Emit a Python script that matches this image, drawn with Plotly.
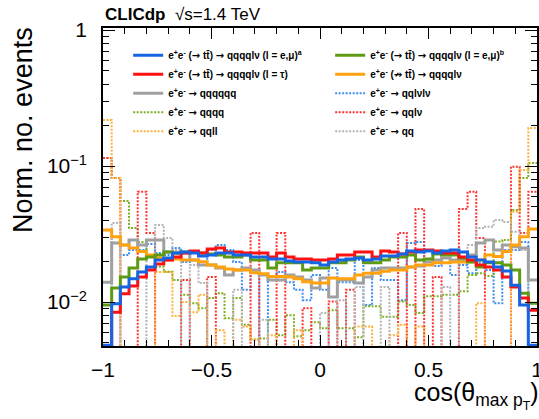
import numpy as np
import plotly.graph_objects as go

# 50 bins in cos(theta_max pT) from -1 to 1
bin_edges = np.linspace(-1, 1, 51)

# ---- solid series ----
ttbar_emu_a = [0.0048, 0.0097, 0.0129, 0.0148, 0.0166, 0.0181, 0.0204, 0.0211, 0.0229, 0.0233,
               0.0229, 0.0218, 0.0222, 0.0229, 0.0229, 0.0222, 0.0222, 0.0214, 0.0214, 0.0207,
               0.0207, 0.0200, 0.0197, 0.0197, 0.0194, 0.0187, 0.0197, 0.0204, 0.0207, 0.0211,
               0.0204, 0.0207, 0.0218, 0.0218, 0.0225, 0.0237, 0.0233, 0.0237, 0.0229, 0.0237,
               0.0241, 0.0233, 0.0214, 0.0204, 0.0197, 0.0181, 0.0169, 0.0133, 0.0095, 0.0048]
ttbar_emu_b = [0.0095, 0.0127, 0.0153, 0.0178, 0.0207, 0.0214, 0.0222, 0.0233, 0.0229, 0.0233,
               0.0233, 0.0229, 0.0225, 0.0222, 0.0214, 0.0214, 0.0222, 0.0204, 0.0204, 0.0178,
               0.0194, 0.0194, 0.0194, 0.0172, 0.0178, 0.0178, 0.0194, 0.0194, 0.0204, 0.0214,
               0.0194, 0.0194, 0.0204, 0.0214, 0.0214, 0.0222, 0.0204, 0.0207, 0.0225, 0.0222,
               0.0222, 0.0211, 0.0197, 0.0181, 0.0194, 0.0194, 0.0187, 0.0172, 0.0116, 0.0098]
ttbar_tau = [0.0040, 0.0084, 0.0115, 0.0131, 0.0153, 0.0172, 0.0190, 0.0204, 0.0214, 0.0229,
             0.0237, 0.0229, 0.0245, 0.0249, 0.0233, 0.0233, 0.0229, 0.0229, 0.0229, 0.0214,
             0.0229, 0.0214, 0.0207, 0.0207, 0.0204, 0.0204, 0.0207, 0.0222, 0.0222, 0.0233,
             0.0233, 0.0214, 0.0237, 0.0233, 0.0225, 0.0233, 0.0241, 0.0241, 0.0237, 0.0229,
             0.0229, 0.0214, 0.0204, 0.0187, 0.0181, 0.0172, 0.0153, 0.0129, 0.0107, 0.0087]
non_ttbar = [0.0338, 0.0302, 0.0262, 0.0249, 0.0235, 0.0222, 0.0211, 0.0204, 0.0207, 0.0204,
             0.0204, 0.0198, 0.0187, 0.0181, 0.0175, 0.0172, 0.0172, 0.0164, 0.0161, 0.0154,
             0.0154, 0.0153, 0.0148, 0.0141, 0.0138, 0.0138, 0.0150, 0.0148, 0.0148, 0.0158,
             0.0163, 0.0163, 0.0168, 0.0172, 0.0172, 0.0181, 0.0187, 0.0187, 0.0194, 0.0194,
             0.0197, 0.0197, 0.0198, 0.0204, 0.0222, 0.0216, 0.0235, 0.0262, 0.0302, 0.0344]
qqqqqq = [0.0140, 0.0272, 0.0262, 0.0286, 0.0262, 0.0286, 0.0286, 0.0233, 0.0229, 0.0229,
          0.0204, 0.0187, 0.0187, 0.0178, 0.0158, 0.0172, 0.0178, 0.0172, 0.0158, 0.0145,
          0.0145, 0.0158, 0.0153, 0.0145, 0.0127, 0.0150, 0.0109, 0.0145, 0.0145, 0.0138,
          0.0153, 0.0172, 0.0178, 0.0178, 0.0178, 0.0181, 0.0184, 0.0197, 0.0204, 0.0211,
          0.0204, 0.0204, 0.0222, 0.0272, 0.0286, 0.0241, 0.0262, 0.0255, 0.0249, 0.0145]

# ---- dotted series ----
qqlvlv = [0, 0.030, 0.0222, 0.0241, 0.0241, 0.0267, 0.0229, 0.0222, 0.0249, 0.0197,
          0.0204, 0.0197, 0.0241, 0.0262, 0.0241, 0.0197, 0.0123, 0.0172, 0, 0.0145,
          0.0166, 0.0140, 0.0123, 0.0103, 0.0158, 0.0123, 0.0178, 0.0140, 0.0140, 0.0204,
          0.0095, 0.0178, 0.0145, 0.0145, 0.0103, 0.0272, 0.0276, 0.0197, 0.0184, 0.0211,
          0.0158, 0.0187, 0.0163, 0.0194, 0.0172, 0.0098, 0.0241, 0.0241, 0.0276, 0]
qqqq = [0.1145, 0.0816, 0.0553, 0.0350, 0.0276, 0.0222, 0.0182, 0.0167, 0.0145, 0.0113,
        0.0098, 0.0090, 0.0107, 0.0116, 0.0076, 0.0107, 0.0068, 0.0053, 0.0054, 0.0074,
        0.0057, 0.0080, 0.0056, 0.0062, 0.0071, 0.0064, 0.0087, 0.0064, 0.0064, 0.0055,
        0.0093, 0.0093, 0.0078, 0.0078, 0.0101, 0.0095, 0.0083, 0.0110, 0.0110, 0.0113,
        0.0113, 0.0120, 0.0158, 0.0163, 0.0155, 0.0278, 0.0286, 0.0475, 0.0816, 0.1050]
qqlv = [0.1145, 0.0816, 0, 0, 0.0647, 0.0322, 0, 0, 0, 0.0145,
        0, 0, 0.0153, 0, 0, 0, 0, 0.0322, 0, 0,
        0.0322, 0, 0, 0.0090, 0, 0, 0.0101, 0, 0.0123, 0,
        0, 0, 0, 0, 0.0322, 0, 0.0483, 0, 0.0153, 0,
        0, 0.0483, 0.0647, 0.0296, 0, 0, 0, 0.0988, 0.0322, 0.0647]
qqll = [0.218, 0.0816, 0, 0, 0, 0, 0.0166, 0.0166, 0.0079, 0.0100,
        0.0084, 0.0113, 0, 0.0062, 0, 0.0074, 0.0066, 0.0053, 0, 0.0057,
        0, 0, 0.0062, 0, 0, 0, 0, 0, 0, 0.0066,
        0.0066, 0, 0, 0.0057, 0.0068, 0, 0.0066, 0, 0, 0,
        0, 0, 0, 0.0098, 0, 0, 0, 0.0461, 0.0935, 0.190]
qq = [0, 0.0381, 0, 0, 0, 0.0222, 0.0368, 0.0296, 0.0241, 0,
      0.0187, 0.0138, 0, 0, 0, 0.0123, 0, 0, 0.0074, 0,
      0, 0, 0, 0, 0, 0.0083, 0, 0.0103, 0, 0.0129,
      0, 0, 0.0129, 0, 0, 0, 0, 0, 0, 0.0129,
      0, 0.0204, 0.0262, 0.0350, 0.0358, 0.0401, 0.0388, 0.0329, 0.0241, 0]

SYM = "<span style='font-family:DejaVu Sans'>{}</span>"
ARROW = SYM.format("\u2192")
NARROW = SYM.format("\u219b")
EE = "e<sup>+</sup>e<sup>-</sup>"
TT = "tt\u0304"
y_tick_vals = [0.01, 0.1, 1]
y_tick_text = ["10<sup>\u22122</sup>", "10<sup>\u22121</sup>", "1"]
x_tick_vals = [-1, -0.5, 0, 0.5, 1]
x_tick_text = ["\u22121", "\u22120.5", "0", "0.5", "1"]

# (values, label, colour, dotted, legend rank)
series = [
    (qqlvlv, EE + " " + ARROW + " qql\u03bdl\u03bd", "#3d8cf0", True, 6),
    (qqqq, EE + " " + ARROW + " qqqq", "#7eae22", True, 7),
    (qqlv, EE + " " + ARROW + " qql\u03bd", "#ff3333", True, 8),
    (qqll, EE + " " + ARROW + " qqll", "#ffb13a", True, 9),
    (qq, EE + " " + ARROW + " qq", "#b4b4b4", True, 10),
    (qqqqqq, EE + " " + ARROW + " qqqqqq", "#a0a0a0", False, 5),
    (non_ttbar, EE + " (" + NARROW + " " + TT + ") " + ARROW + " qqqql\u03bd", "#ffa20f", False, 4),
    (ttbar_emu_b, EE + " (" + ARROW + " " + TT + ") " + ARROW + " qqqql\u03bd (l = e,\u03bc)<sup>b</sup>", "#5f9b12", False, 2),
    (ttbar_tau, EE + " (" + ARROW + " " + TT + ") " + ARROW + " qqqql\u03bd (l = \u03c4)", "#ff1010", False, 3),
    (ttbar_emu_a, EE + " (" + ARROW + " " + TT + ") " + ARROW + " qqqql\u03bd (l = e,\u03bc)<sup>a</sup>", "#1565e3", False, 1),
]

FLOOR = 1e-4  # empty bins are drawn below the frame

fig = go.Figure()
for vals, label, col, dotted, rank in series:
    v = [max(a, FLOOR) for a in vals]
    xs = list(bin_edges[:-1]) + [bin_edges[-1]]
    ys = v + [v[-1]]
    fig.add_trace(go.Scatter(
        x=xs, y=ys, mode="lines", name=label, legendrank=rank,
        line=dict(shape="hv", color=col, width=2 if dotted else 3,
                  dash="2px,1.5px" if dotted else "solid"),
    ))

FONT = "Liberation Sans, Arial, Helvetica, sans-serif"
minor_y = [m * d for d in (0.001, 0.01, 0.1) for m in range(2, 10)]

fig.update_layout(
    width=539, height=419,
    margin=dict(l=103, r=2, t=28, b=73, autoexpand=False),
    paper_bgcolor="white", plot_bgcolor="white",
    font=dict(family=FONT, color="black"),
    showlegend=True,
    legend=dict(orientation="h", entrywidth=157, entrywidthmode="pixels",
                x=0.058, y=0.96, xanchor="left", yanchor="top",
                bgcolor="rgba(0,0,0,0)", font=dict(size=10, family=FONT, weight="bold"),
                traceorder="normal"),
    xaxis=dict(range=[-1, 1], tickvals=x_tick_vals, ticktext=x_tick_text,
               automargin=False,
               ticks="inside", ticklen=11, tickwidth=1, tickcolor="black",
               mirror="allticks", showline=True, linecolor="black", linewidth=1.5,
               showgrid=False, zeroline=False, tickfont=dict(size=21),
               ticklabeloverflow="allow",
               minor=dict(ticks="inside", ticklen=6, dtick=0.1, tickcolor="black", showgrid=False),
               ticklabelstandoff=4),
    yaxis=dict(type="log", range=[-2.3235, 0.0147], tickvals=y_tick_vals, ticktext=y_tick_text,
               automargin=False,
               ticks="inside", ticklen=12, tickwidth=1, tickcolor="black",
               mirror="allticks", showline=True, linecolor="black", linewidth=1.5,
               showgrid=False, zeroline=False, tickfont=dict(size=21),
               minor=dict(ticks="inside", ticklen=6, tickvals=minor_y, tickcolor="black", showgrid=False),
               ticklabelstandoff=10),
    annotations=[
        dict(text="<b>CLICdp</b>  \u221as=1.4 TeV", xref="paper", yref="paper",
             x=0, y=1, xanchor="left", yanchor="bottom", yshift=2, showarrow=False,
             font=dict(size=17, family=FONT)),
        dict(text="Norm. no. events", xref="paper", yref="paper", textangle=-90,
             x=-0.173, y=1.0, xanchor="center", yanchor="top", xshift=-5, yshift=3,
             showarrow=False, font=dict(size=27, family=FONT)),
        dict(text="cos(\u03b8<sub>max p<sub>T</sub></sub>)", xref="paper", yref="paper",
             x=1.0, y=-0.1, xanchor="right", yanchor="top", xshift=4, yshift=2,
             showarrow=False, font=dict(size=25, family=FONT)),
    ],
)

fig.write_html("out.html", config={"displayModeBar": False},
               post_script="document.body.style.margin='0';"
                           "document.documentElement.style.overflow='hidden';")
